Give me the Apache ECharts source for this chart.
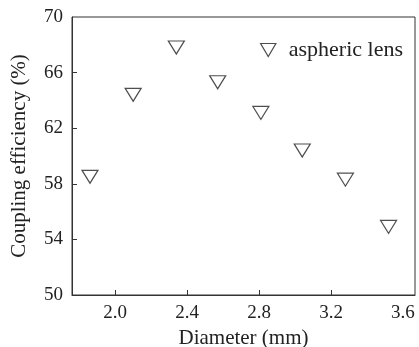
<!DOCTYPE html>
<html>
<head>
<meta charset="utf-8">
<script src="https://cdn.jsdelivr.net/npm/echarts@6/dist/echarts.min.js"></script>
<style>
  html, body { margin: 0; padding: 0; background: #fff; }
  #chart { width: 419px; height: 347px; }
</style>
</head>
<body>
<div id="chart"></div>
<script>
const diameter = [1.86, 2.10, 2.34, 2.57, 2.81, 3.04, 3.28, 3.52];
const efficiency = [58.5, 64.4, 67.8, 65.3, 63.1, 60.4, 58.3, 54.9];
const xTicks = [2.0, 2.4, 2.8, 3.2];
const xLabels = [2.0, 2.4, 2.8, 3.2, 3.6];
const yTicks = [54, 58, 62, 66];
const yLabels = [50, 54, 58, 62, 66, 70];

const font = '"Liberation Serif", "DejaVu Serif", serif';
const ink = '#222';
const downTri = 'path://M0,0 L10,0 L5,8.5 Z';

const chart = echarts.init(document.getElementById('chart'));
chart.setOption({
  animation: false,
  grid: {
    left: 72, right: 4, top: 17, bottom: 52,
    outerBoundsMode: 'none', containLabel: false,
    show: true, borderColor: '#333', borderWidth: 1
  },
  legend: {
    top: 34, left: 255,
    itemWidth: 17, itemHeight: 13,
    itemStyle: { color: '#fff', borderColor: '#222', borderWidth: 1.2 },
    textStyle: { fontFamily: font, fontSize: 22, color: ink, padding: [0, 0, 0, 7] },
    data: ['aspheric lens']
  },
  xAxis: {
    type: 'value', min: 1.76, max: 3.667,
    name: 'Diameter (mm)', nameLocation: 'middle', nameGap: 30,
    nameTextStyle: { fontFamily: font, fontSize: 21, color: ink },
    axisLine: { lineStyle: { color: '#333' } },
    axisTick: { inside: true, length: 5, lineStyle: { color: '#333' }, customValues: xTicks },
    axisLabel: { fontFamily: font, fontSize: 19, color: ink, margin: 9, customValues: xLabels,
      formatter: v => v.toFixed(1) },
    splitLine: { show: false }
  },
  yAxis: {
    type: 'value', min: 50, max: 70,
    name: 'Coupling efficiency (%)', nameLocation: 'middle', nameGap: 42,
    nameTextStyle: { fontFamily: font, fontSize: 21, color: ink },
    axisLine: { show: true, lineStyle: { color: '#333' } },
    axisTick: { show: true, inside: true, length: 5, lineStyle: { color: '#333' }, customValues: yTicks },
    axisLabel: { fontFamily: font, fontSize: 19, color: ink, margin: 9, customValues: yLabels },
    splitLine: { show: false }
  },
  series: [{
    name: 'aspheric lens',
    type: 'scatter',
    symbol: downTri,
    symbolSize: [16, 13],
    itemStyle: { color: '#fff', borderColor: '#222', borderWidth: 1.2 },
    data: diameter.map((d, i) => [d, efficiency[i]])
  }]
});
</script>
</body>
</html>
